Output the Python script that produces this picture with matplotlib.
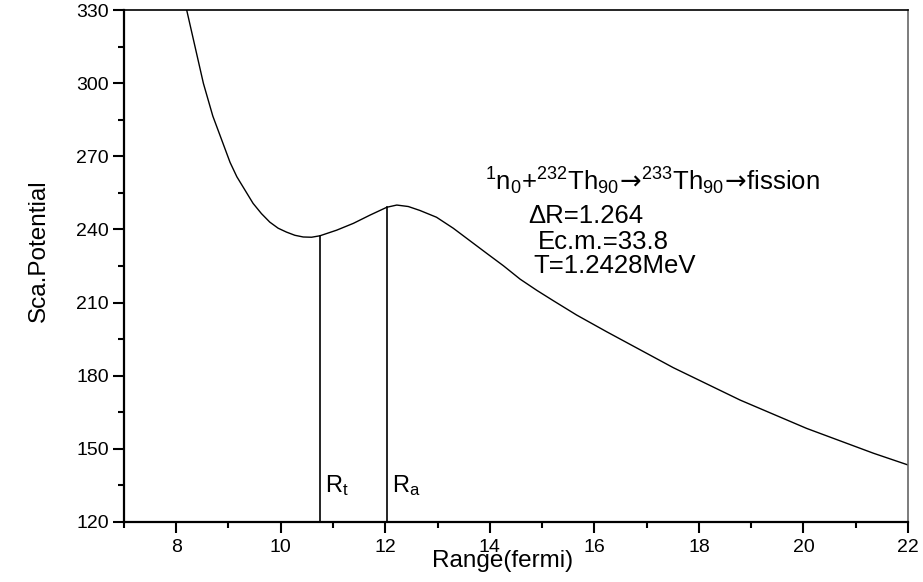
import matplotlib
matplotlib.use('Agg')
import matplotlib.pyplot as plt
from matplotlib.ticker import MultipleLocator

plt.rcParams['font.family'] = ['Liberation Sans', 'DejaVu Sans']
plt.rcParams['mathtext.fontset'] = 'custom'
plt.rcParams['mathtext.rm'] = 'Liberation Sans'
plt.rcParams['mathtext.it'] = 'Liberation Sans'
plt.rcParams['mathtext.sf'] = 'DejaVu Sans'

# potential curve
range_fermi = [8.20, 8.52, 8.70, 8.90, 9.03, 9.16, 9.47, 9.63, 9.79, 9.95, 10.11,
               10.27, 10.43, 10.59, 10.75, 11.07, 11.39, 11.71, 12.03, 12.22,
               12.44, 12.66, 12.98, 13.30, 13.94, 14.26, 14.58, 14.90, 15.22,
               15.66, 16.23, 17.51, 18.79, 20.06, 21.34, 22.00]
potential = [330.0, 299.9, 286.5, 275.0, 267.5, 261.6, 250.7, 246.5, 243.0, 240.5, 238.9,
             237.6, 236.9, 236.8, 237.4, 239.7, 242.5, 245.9, 249.1, 250.0,
             249.4, 247.8, 245.0, 240.5, 230.2, 225.1, 219.6, 215.0, 210.7,
             204.9, 198.1, 183.3, 170.0, 158.4, 148.2, 143.4]

rt_x, rt_y = 10.75, 237.4
ra_x, ra_y = 12.03, 249.1

fig = plt.figure(figsize=(9.23, 5.82), dpi=100)
ax = fig.add_axes([0.1343, 0.1031, 0.8494, 0.8797])

ax.plot(range_fermi, potential, color='black', lw=1.0)
ax.plot([rt_x, rt_x], [120, rt_y], color='black', lw=1.2)
ax.plot([ra_x, ra_x], [120, ra_y], color='black', lw=1.2)

ax.set_xlim(7, 22)
ax.set_ylim(120, 330)
ax.set_xticks([8, 10, 12, 14, 16, 18, 20, 22])
ax.xaxis.set_minor_locator(MultipleLocator(1))
ax.yaxis.set_major_locator(MultipleLocator(30))
ax.yaxis.set_minor_locator(MultipleLocator(15))
ax.tick_params(which='major', direction='out', length=8, width=1.5, labelsize=14)
ax.tick_params(axis='y', which='major', pad=3)
ax.tick_params(axis='x', which='major', pad=4)
ax.tick_params(which='minor', direction='out', length=4, width=1.5)
ax.tick_params(top=False, right=False)

ax.spines['left'].set_linewidth(1.6)
ax.spines['bottom'].set_linewidth(1.6)
ax.spines['top'].set_linewidth(1.2)
ax.spines['right'].set_linewidth(1.2)
ax.spines['right'].set_color('#666666')

ax.text(0.483, -0.076, 'Range(fermi)', transform=ax.transAxes,
        ha='center', va='center', fontsize=17.5)
ax.text(-0.108, 0.529, 'Sca.Potential', transform=ax.transAxes,
        ha='center', va='center', rotation=90, fontsize=17.5)

ax.text(10.85, 132.3, r'R$_{\mathrm{t}}$', fontsize=17)
ax.text(12.12, 132.3, r'R$_{\mathrm{a}}$', fontsize=17)

arrow = r'$\!\mathsf{\rightarrow}\!$'
ax.text(13.90, 256.2,
        r'$^{1}$n$_{0}$+$^{232}$Th$_{90}$' + arrow + r'$^{233}$Th$_{90}$' + arrow + 'fission',
        fontsize=18.5, va='baseline')
ax.text(14.73, 242.6, 'ΔR=1.264', fontsize=18.5, va='baseline')
ax.text(14.92, 232.0, 'Ec.m.=33.8', fontsize=18.5, va='baseline')
ax.text(14.83, 222.1, 'T=1.2428MeV', fontsize=18.5, va='baseline')

fig.savefig('out.png', dpi=100)
